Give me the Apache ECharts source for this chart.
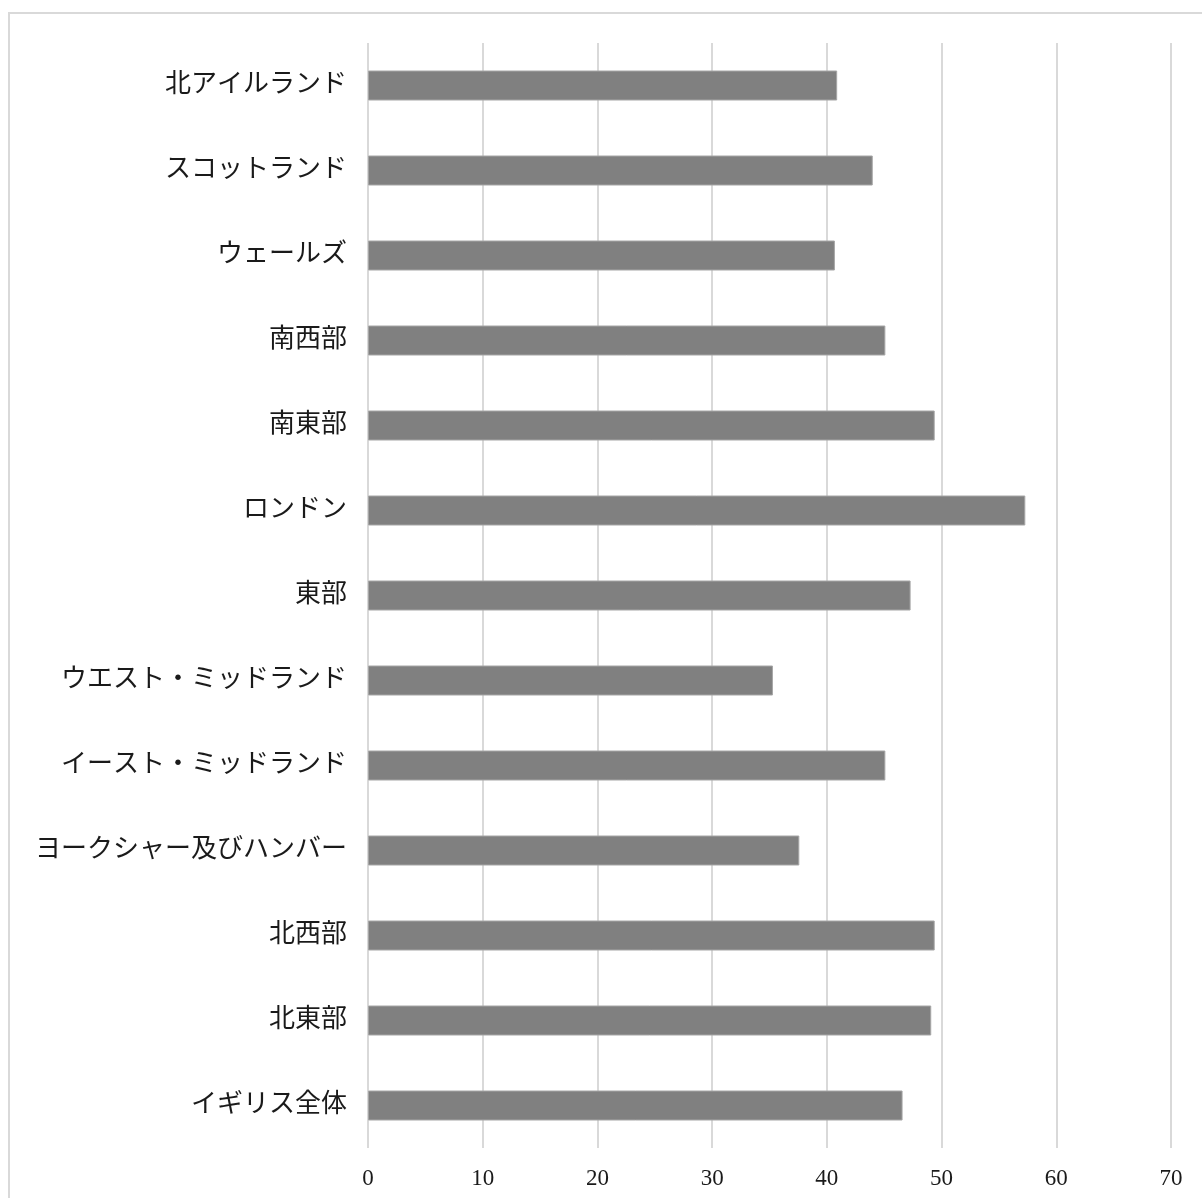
<!DOCTYPE html>
<html>
<head>
<meta charset="utf-8">
<script src="https://cdn.jsdelivr.net/npm/echarts@6/dist/echarts.min.js"></script>
<style>
html,body{margin:0;padding:0;background:#fff;}
#chart{width:1202px;height:1198px;}
</style>
</head>
<body>
<div id="chart"></div>
<script>
// categories listed bottom to top
const regions = ['イギリス全体','北東部','北西部','ヨークシャー及びハンバー','イースト・ミッドランド','ウエスト・ミッドランド','東部','ロンドン','南東部','南西部','ウェールズ','スコットランド','北アイルランド'];
const values = [46.6, 49.1, 49.4, 37.6, 45.1, 35.3, 47.3, 57.3, 49.4, 45.1, 40.7, 44.0, 40.9];
const xTicks = [0, 10, 20, 30, 40, 50, 60, 70];

const chart = echarts.init(document.getElementById('chart'), null, {renderer: 'canvas'});
chart.setOption({
  backgroundColor: '#ffffff',
  animation: false,
  graphic: [{
    type: 'rect',
    shape: {x: 9, y: 13, width: 1300, height: 1300},
    style: {fill: 'none', stroke: '#d9d9d9', lineWidth: 2},
    silent: true
  }],
  grid: {left: 368, right: 31, top: 43, bottom: 50, containLabel: false},
  xAxis: {
    type: 'value',
    min: xTicks[0],
    max: xTicks[xTicks.length - 1],
    interval: 10,
    axisLine: {show: false},
    axisTick: {show: false},
    splitLine: {show: true, lineStyle: {color: '#d9d9d9', width: 2}},
    axisLabel: {
      margin: 19,
      fontSize: 23,
      color: '#1a1a1a',
      fontFamily: "'Liberation Serif', 'DejaVu Serif', serif"
    }
  },
  yAxis: {
    type: 'category',
    data: regions,
    axisLine: {show: false},
    axisTick: {show: false},
    splitLine: {show: false},
    axisLabel: {
      margin: 21,
      fontSize: 26,
      color: '#1a1a1a',
      fontFamily: "'Liberation Serif', 'Noto Sans CJK JP', serif"
    }
  },
  series: [{
    type: 'bar',
    data: values,
    barWidth: 30,
    itemStyle: {color: '#808080', borderColor: '#a6a6a6', borderWidth: 1}
  }]
});
</script>
</body>
</html>
